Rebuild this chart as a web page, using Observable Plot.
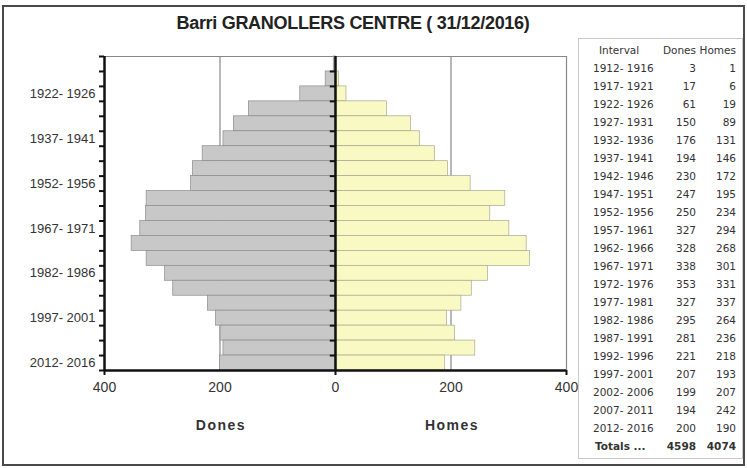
<!DOCTYPE html>
<html><head><meta charset="utf-8">
<script src="https://cdn.jsdelivr.net/npm/d3@7"></script>
<script src="https://cdn.jsdelivr.net/npm/@observablehq/plot@0.6"></script>
<style>
html,body{margin:0;padding:0;background:#fff;}
#wrap{position:relative;width:747px;height:468px;overflow:hidden;font-family:"Liberation Sans",Arial,sans-serif;}
#frame{position:absolute;left:2px;top:5px;width:739px;height:457px;border:2px solid #4a4a4a;}
#title{position:absolute;left:0;top:13px;width:706px;text-align:center;font-weight:bold;font-size:18px;letter-spacing:-0.3px;color:#222;}
#chart{position:absolute;left:0;top:40px;}
.side{position:absolute;top:417px;font-weight:bold;font-size:14px;letter-spacing:1.5px;color:#333;transform:translateX(-50%);}
#tbl{position:absolute;left:578px;top:38px;width:165px;height:421px;border:1px solid #c8c8c8;box-sizing:border-box;background:#fff;}
#tbl table{border-collapse:collapse;table-layout:fixed;width:163px;font-family:"DejaVu Sans",Verdana,sans-serif;font-size:10.5px;color:#333;margin-top:2px;}
#tbl td{height:18px;padding:0;line-height:18px;white-space:nowrap;overflow:visible;}
#tbl tr.hdr td{font-size:10.5px;}
</style></head>
<body><div id="wrap">
<div id="frame"></div>
<div id="title">Barri GRANOLLERS CENTRE ( 31/12/2016)</div>
<div id="chart"></div>
<div class="side" style="left:221px">Dones</div>
<div class="side" style="left:452px">Homes</div>
<div id="tbl"></div>
</div>
<script>
const intervals = ["1912- 1916","1917- 1921","1922- 1926","1927- 1931","1932- 1936","1937- 1941","1942- 1946","1947- 1951","1952- 1956","1957- 1961","1962- 1966","1967- 1971","1972- 1976","1977- 1981","1982- 1986","1987- 1991","1992- 1996","1997- 2001","2002- 2006","2007- 2011","2012- 2016"];
const dones = [3,17,61,150,176,194,230,247,250,327,328,338,353,327,295,281,221,207,199,194,200];
const homes = [1,6,19,89,131,146,172,195,234,294,268,301,331,337,264,236,218,193,207,242,190];
const labeled = ["1922- 1926","1937- 1941","1952- 1956","1967- 1971","1982- 1986","1997- 2001","2012- 2016"];
const xTicks = [-400,-200,0,200,400];
const totals = {label:"Totals ...", dones:4598, homes:4074};

const rows = intervals.map((iv,i)=>({iv, i, d: dones[i], h: homes[i]}));
const bounds = d3.range(intervals.length + 1);
const labelPos = labeled.map(l => intervals.indexOf(l) + 0.5);

const chart = Plot.plot({
  width: 600, height: 410,
  marginLeft: 104, marginRight: 34, marginTop: 16, marginBottom: 80,
  style: {fontFamily: "Liberation Sans, Arial, sans-serif", color: "#333", background: "transparent"},
  x: {domain: [-400, 400], label: null},
  y: {domain: [0, intervals.length], reverse: true, label: null},
  marks: [
    Plot.ruleX([-200, 200], {stroke: "#888", strokeWidth: 1.2}),
    Plot.ruleX([400], {stroke: "#888", strokeWidth: 1.2}),
    Plot.ruleY([0], {stroke: "#888", strokeWidth: 1.2}),
    Plot.rectX(rows, {x1: 0, x2: d => -d.d, y1: "i", y2: d => d.i + 1, fill: "#c8c8c8", stroke: "#8c8c8c", strokeWidth: 0.7}),
    Plot.rectX(rows, {x1: 0, x2: "h", y1: "i", y2: d => d.i + 1, fill: "#f9f9c3", stroke: "#a8a890", strokeWidth: 0.7}),
    Plot.axisY(labelPos, {anchor: "left", tickSize: 0, tickPadding: 9, fontSize: 13, tickFormat: d => intervals[d - 0.5], label: null}),
    Plot.axisY(bounds, {anchor: "left", tickSize: 5, strokeWidth: 2, stroke: "#111", tickFormat: () => "", label: null}),
    Plot.ruleY(bounds.slice(1, -1), {y: d => d, x1: -9, x2: 0, stroke: "#111", strokeWidth: 2}),
    Plot.ruleX([-400, 0], {stroke: "#111", strokeWidth: 2.5}),
    Plot.ruleY([intervals.length], {stroke: "#111", strokeWidth: 2.5}),
    Plot.axisX(xTicks, {anchor: "bottom", tickSize: 0, tickPadding: 12, fontSize: 14, tickFormat: d => Math.abs(d), label: null}),
    Plot.axisX([-400, 0, 400], {anchor: "bottom", tickSize: 5, strokeWidth: 2, stroke: "#111", tickFormat: () => "", label: null})
  ]
});
document.getElementById("chart").appendChild(chart);

let html = '<table><colgroup><col style="width:82px"><col style="width:37px"><col style="width:44px"></colgroup>';
html += '<tr class="hdr"><td style="padding-left:20px">Interval</td><td style="text-align:right;padding-right:2px">Dones</td><td style="text-align:right;padding-right:6px">Homes</td></tr>';
rows.forEach(r => {
  html += `<tr><td style="padding-left:14px">${r.iv}</td><td style="text-align:right;padding-right:2px">${r.d}</td><td style="text-align:right;padding-right:6px">${r.h}</td></tr>`;
});
html += `<tr style="font-weight:bold"><td style="padding-left:16px">${totals.label}</td><td style="text-align:right;padding-right:2px">${totals.dones}</td><td style="text-align:right;padding-right:6px">${totals.homes}</td></tr></table>`;
document.getElementById("tbl").innerHTML = html;
</script>
</body></html>
